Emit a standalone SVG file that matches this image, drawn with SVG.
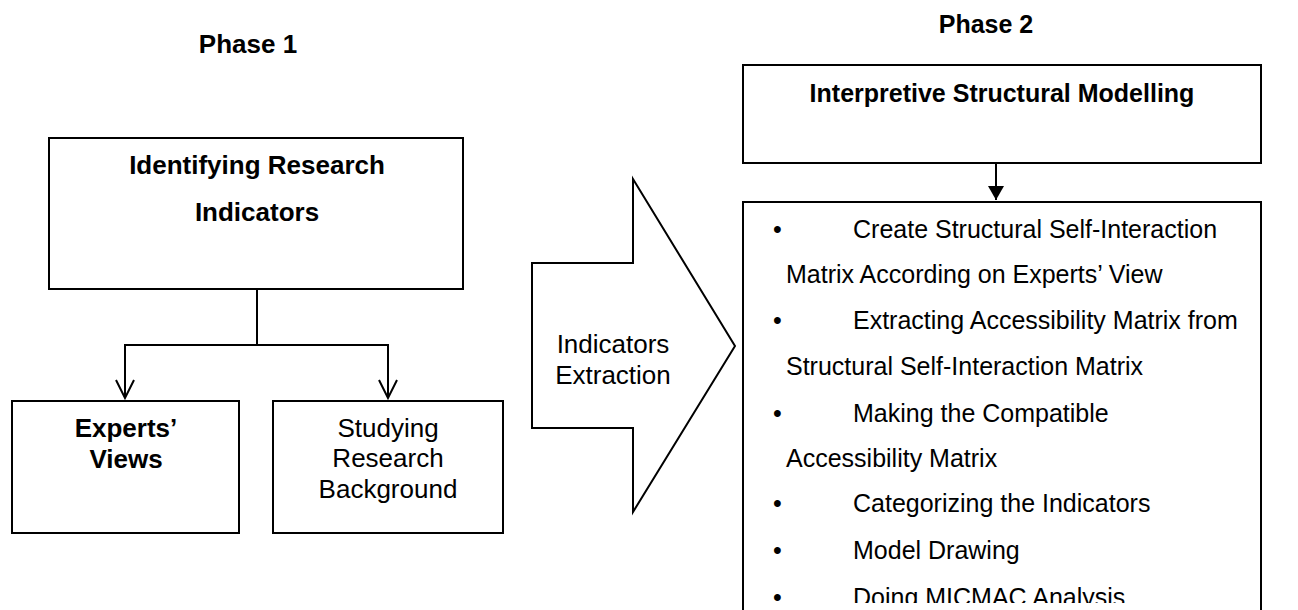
<svg xmlns="http://www.w3.org/2000/svg" width="1298" height="610" viewBox="0 0 1298 610">
<style>
text{font-family:"Liberation Sans",Arial,sans-serif;fill:#000}
.b{font-weight:bold}
.c{text-anchor:middle}
.box{fill:#fff;stroke:#000;stroke-width:2}
.ln{fill:none;stroke:#000;stroke-width:2}
</style>
<defs>
<marker id="open" viewBox="0 0 22 22" refX="20" refY="11" markerWidth="22" markerHeight="22" markerUnits="userSpaceOnUse" orient="auto">
<path d="M2,2 L20,11 L2,20" fill="none" stroke="#000" stroke-width="2"/>
</marker>
<marker id="fill" viewBox="0 0 14 16" refX="14" refY="8" markerWidth="14" markerHeight="16" markerUnits="userSpaceOnUse" orient="auto">
<path d="M0,0 L14,8 L0,16 Z" fill="#000"/>
</marker>
<clipPath id="listclip"><rect x="743" y="202" width="518" height="401"/></clipPath>
</defs>
<text class="b c" x="248" y="53" font-size="26">Phase 1</text>
<text class="b c" x="986" y="33" font-size="25">Phase 2</text>
<g id="connectors">
<path class="ln" d="M257,289 V345 H125 V398" marker-end="url(#open)"/>
<path class="ln" d="M257,345 H388 V398" marker-end="url(#open)"/>
<path class="ln" d="M996,163 V200" marker-end="url(#fill)"/>
</g>
<g id="identifying">
<rect class="box" x="49" y="138" width="414" height="151"/>
<text class="b c" x="257" y="174" font-size="26">Identifying Research</text>
<text class="b c" x="257" y="221" font-size="26">Indicators</text>
</g>
<g id="experts">
<rect class="box" x="12" y="401" width="227" height="132"/>
<text class="b c" x="126" y="437" font-size="26">Experts’</text>
<text class="b c" x="126" y="468" font-size="26">Views</text>
</g>
<g id="studying">
<rect class="box" x="273" y="401" width="230" height="132"/>
<text class="c" x="388" y="437" font-size="26">Studying</text>
<text class="c" x="388" y="467" font-size="26">Research</text>
<text class="c" x="388" y="498" font-size="26">Background</text>
</g>
<g id="extraction">
<path class="box" d="M532,263 H633 V179 L735,346 L633,512 V428 H532 Z"/>
<text class="c" x="613" y="353" font-size="26">Indicators</text>
<text class="c" x="613" y="384" font-size="26">Extraction</text>
</g>
<g id="ism">
<rect class="box" x="743" y="65" width="518" height="98"/>
<text class="b c" x="1002" y="102" font-size="25">Interpretive Structural Modelling</text>
</g>
<g id="steps">
<path class="ln" d="M743,620 V202 H1261 V620"/>
<g clip-path="url(#listclip)" font-size="25">
<text x="773" y="238">•</text><text x="853" y="238">Create Structural Self-Interaction</text>
<text x="786" y="283">Matrix According on Experts’ View</text>
<text x="773" y="329">•</text><text x="853" y="329">Extracting Accessibility Matrix from</text>
<text x="786" y="375">Structural Self-Interaction Matrix</text>
<text x="773" y="422">•</text><text x="853" y="422">Making the Compatible</text>
<text x="786" y="467">Accessibility Matrix</text>
<text x="773" y="512">•</text><text x="853" y="512">Categorizing the Indicators</text>
<text x="773" y="559">•</text><text x="853" y="559">Model Drawing</text>
<text x="773" y="606">•</text><text x="853" y="606">Doing MICMAC Analysis</text>
</g>
</g>
</svg>
